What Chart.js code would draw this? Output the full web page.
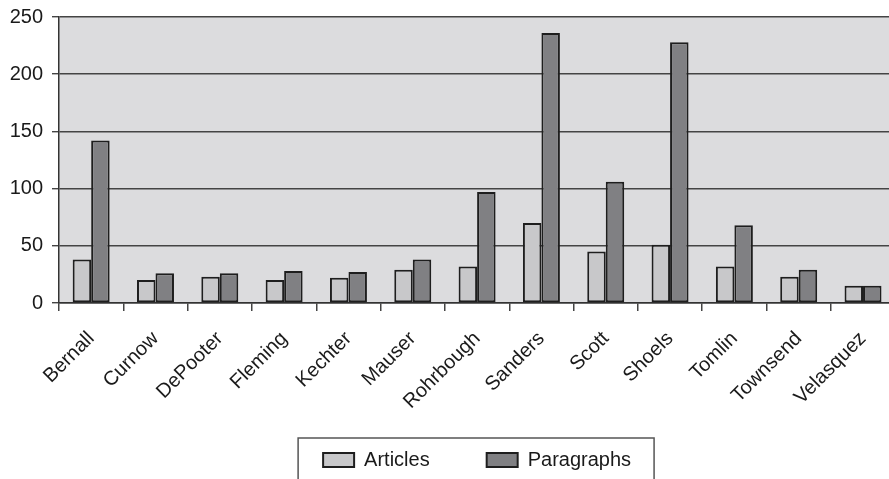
<!DOCTYPE html>
<html>
<head>
<meta charset="utf-8">
<script src="https://cdn.jsdelivr.net/npm/chart.js@4"></script>
<style>
  html, body { margin: 0; padding: 0; background: #fff; overflow: hidden; }
  .graph { position: relative; width: 896px; height: 480px; }
</style>
</head>
<body>
<div class="graph"><canvas id="graphContainer"></canvas></div>
<script>
const names = ["Bernall", "Curnow", "DePooter", "Fleming", "Kechter", "Mauser", "Rohrbough",
  "Sanders", "Scott", "Shoels", "Tomlin", "Townsend", "Velasquez"];
const articles = [38, 20, 23, 20, 22, 29, 32, 70, 45, 51, 32, 23, 15];
const paragraphs = [142, 26, 26, 28, 27, 38, 97, 236, 106, 228, 68, 29, 15];
const yTicks = [0, 50, 100, 150, 200, 250];

const font = { family: "'Liberation Sans', Arial, sans-serif", size: 20 };

// grey plot background
const plotBg = {
  id: "plotBg",
  beforeDraw(chart) {
    const a = chart.chartArea;
    const ctx = chart.ctx;
    ctx.save();
    ctx.fillStyle = "#dcdcde";
    ctx.fillRect(a.left, a.top, a.right - a.left, a.bottom - a.top);
    ctx.restore();
  }
};

// let the rotated names hang below the x scale box without being clipped
const labelRoom = {
  id: "labelRoom",
  afterLayout(chart) {
    const x = chart.scales.x;
    x.bottom = x.top + 140;
    x.height = 140;
  }
};

// frame round the legend
const legendFrame = {
  id: "legendFrame",
  afterDraw(chart) {
    const boxes = chart.legend.legendHitBoxes;
    if (!boxes || !boxes.length) return;
    const first = boxes[0];
    const last = boxes[boxes.length - 1];
    const ctx = chart.ctx;
    ctx.save();
    ctx.strokeStyle = "#555";
    ctx.lineWidth = 1.5;
    const left = first.left - 25;
    const right = last.left + last.width + 23;
    const top = first.top - 12;
    ctx.strokeRect(left, top, right - left, chart.height + 10 - top);
    ctx.restore();
  }
};

new Chart(document.getElementById("graphContainer"), {
  type: "bar",
  data: {
    labels: names,
    datasets: [
      {
        label: "Articles",
        data: articles,
        backgroundColor: "#c8c8ca",
        borderColor: "#1e1e1e",
        borderWidth: 2,
        borderSkipped: false,
        barPercentage: 1,
        categoryPercentage: 0.575
      },
      {
        label: "Paragraphs",
        data: paragraphs,
        backgroundColor: "#808083",
        borderColor: "#1e1e1e",
        borderWidth: 2,
        borderSkipped: false,
        barPercentage: 1,
        categoryPercentage: 0.575
      }
    ]
  },
  options: {
    responsive: true,
    maintainAspectRatio: false,
    animation: false,
    layout: { padding: { top: 16, right: 0, left: 0, bottom: 0 } },
    scales: {
      x: {
        afterFit(scale) { scale.height = 90; },
        grid: {
          offset: true,
          drawOnChartArea: false,
          tickLength: 8,
          color: "#444",
          lineWidth: 1.5
        },
        border: { color: "#333", width: 1.5 },
        ticks: {
          font: font,
          color: "#1a1a1a",
          maxRotation: 45,
          minRotation: 45,
          padding: 16,
          autoSkip: false
        }
      },
      y: {
        min: 0,
        max: 250,
        afterFit(scale) { scale.width = 59; },
        afterBuildTicks(scale) { scale.ticks = yTicks.map(v => ({ value: v })); },
        grid: {
          color: "#444",
          lineWidth: 1.4,
          tickLength: 7
        },
        border: { color: "#333", width: 1.5 },
        ticks: { font: { ...font, lineHeight: 0.8 }, color: "#1a1a1a", padding: 9 }
      }
    },
    plugins: {
      legend: {
        position: "bottom",
        fullSize: false,
        labels: {
          font: font,
          color: "#1a1a1a",
          boxWidth: 31,
          boxHeight: 14,
          padding: 57
        }
      },
      tooltip: { enabled: false }
    }
  },
  plugins: [plotBg, labelRoom, legendFrame]
});
</script>
</body>
</html>
